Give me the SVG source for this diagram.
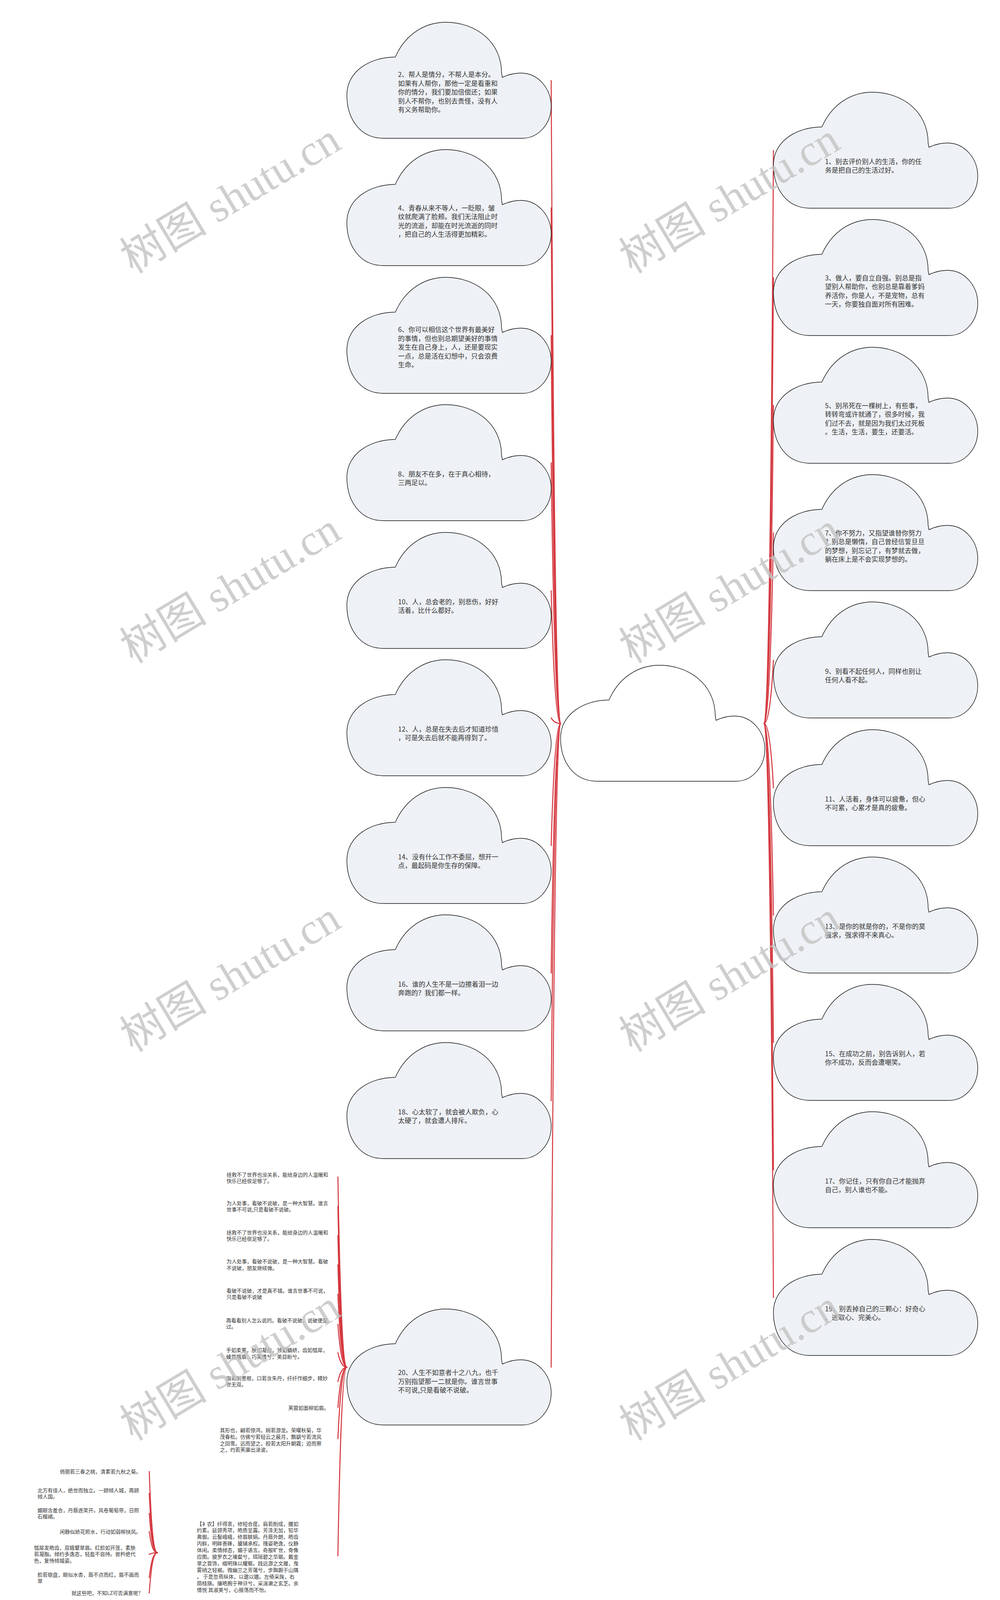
<svg xmlns="http://www.w3.org/2000/svg" xmlns:xlink="http://www.w3.org/1999/xlink" width="2560" height="4271" viewBox="0 0 2560 4271">
<style>
.cloud{fill:#eef1f5;stroke:#111;stroke-width:1.4}
.cloud.center{fill:#ffffff}
.ct{font-family:"Noto Sans CJK SC","Noto Sans",sans-serif;font-size:17px;fill:#333}
.st{font-family:"Noto Sans CJK SC","Noto Sans",sans-serif;font-size:13px;fill:#333}
.link{fill:none;stroke:#d4383f;stroke-width:2.6;stroke-linecap:round}
.wm{font-family:"Liberation Serif","Noto Sans CJK SC",serif;font-size:112px;fill:#c4c4c4;opacity:0.82}
</style>
<defs>
<path id="cloudShape" d="M94 297 C32 297 0 245 0 186 C0 125 60 89 124 89 C150 30 200 0 253 0 C330 0 396 50 396 130 L398 141 C415 133 430 130 445 130 C490 130 523 170 523 215 C523 260 490 297 449 297 Z"/>
</defs>
<rect x="0" y="0" width="2560" height="4271" fill="#ffffff"/>

<g id="connectors">
<path class="link" d="M1411 206 C1414 782 1421 1852 1435 1852"/>
<path class="link" d="M1411 532 C1414 994 1421 1852 1435 1852"/>
<path class="link" d="M1411 859 C1414 1207 1421 1852 1435 1852"/>
<path class="link" d="M1411 1185 C1414 1419 1421 1852 1435 1852"/>
<path class="link" d="M1411 1512 C1414 1631 1421 1852 1435 1852"/>
<path class="link" d="M1411 1838 C1414 1843 1421 1852 1435 1852"/>
<path class="link" d="M1411 2165 C1414 2055 1421 1852 1435 1852"/>
<path class="link" d="M1411 2491 C1414 2267 1421 1852 1435 1852"/>
<path class="link" d="M1411 2818 C1414 2480 1421 1852 1435 1852"/>
<path class="link" d="M1411 3500 C1414 2923 1421 1852 1435 1852"/>
<path class="link" d="M1980 385 C1977 899 1970 1852 1956 1852"/>
<path class="link" d="M1980 711 C1977 1110 1970 1852 1956 1852"/>
<path class="link" d="M1980 1038 C1977 1323 1970 1852 1956 1852"/>
<path class="link" d="M1980 1364 C1977 1535 1970 1852 1956 1852"/>
<path class="link" d="M1980 1690 C1977 1747 1970 1852 1956 1852"/>
<path class="link" d="M1980 2017 C1977 1959 1970 1852 1956 1852"/>
<path class="link" d="M1980 2343 C1977 2171 1970 1852 1956 1852"/>
<path class="link" d="M1980 2669 C1977 2383 1970 1852 1956 1852"/>
<path class="link" d="M1980 2995 C1977 2595 1970 1852 1956 1852"/>
<path class="link" d="M1980 3322 C1977 2808 1970 1852 1956 1852"/>
<path class="link" d="M865 3013 C868 3184 874 3500 888 3500"/>
<path class="link" d="M865 3088 C868 3232 874 3500 888 3500"/>
<path class="link" d="M865 3163 C868 3281 874 3500 888 3500"/>
<path class="link" d="M865 3238 C868 3330 874 3500 888 3500"/>
<path class="link" d="M865 3313 C868 3379 874 3500 888 3500"/>
<path class="link" d="M865 3390 C868 3429 874 3500 888 3500"/>
<path class="link" d="M865 3463 C868 3476 874 3500 888 3500"/>
<path class="link" d="M865 3537 C868 3524 874 3500 888 3500"/>
<path class="link" d="M865 3603 C868 3567 874 3500 888 3500"/>
<path class="link" d="M865 3683 C868 3619 874 3500 888 3500"/>
<path class="link" d="M865 3983 C868 3814 874 3500 888 3500"/>
<path class="link" d="M382 3767 C385 3840 389 3975 403 3975"/>
<path class="link" d="M382 3823 C385 3876 389 3975 403 3975"/>
<path class="link" d="M382 3874 C385 3909 389 3975 403 3975"/>
<path class="link" d="M382 3921 C385 3940 389 3975 403 3975"/>
<path class="link" d="M382 3979 C385 3978 389 3975 403 3975"/>
<path class="link" d="M382 4039 C385 4017 389 3975 403 3975"/>
<path class="link" d="M382 4078 C385 4042 389 3975 403 3975"/>
</g>

<g id="node-center">
<use href="#cloudShape" xlink:href="#cloudShape" class="cloud center" x="1435" y="1703"/>
</g>

<g id="node-2">
<use href="#cloudShape" xlink:href="#cloudShape" class="cloud" x="888" y="57"/>
<text class="ct"><tspan x="1019" y="197">2、帮人是情分，不帮人是本分。</tspan><tspan x="1019" y="219.5">如果有人帮你，那他一定是看重和</tspan><tspan x="1019" y="242">你的情分，我们要加倍偿还；如果</tspan><tspan x="1019" y="264.5">别人不帮你，也别去责怪，没有人</tspan><tspan x="1019" y="287">有义务帮助你。</tspan></text>
</g>
<g id="node-4">
<use href="#cloudShape" xlink:href="#cloudShape" class="cloud" x="888" y="383"/>
<text class="ct"><tspan x="1019" y="538.5">4、青春从来不等人，一眨眼，皱</tspan><tspan x="1019" y="561">纹就爬满了脸颊。我们无法阻止时</tspan><tspan x="1019" y="583.5">光的流逝，却能在时光流逝的同时</tspan><tspan x="1019" y="606">，把自己的人生活得更加精彩。</tspan></text>
</g>
<g id="node-6">
<use href="#cloudShape" xlink:href="#cloudShape" class="cloud" x="888" y="710"/>
<text class="ct"><tspan x="1019" y="850">6、你可以相信这个世界有最美好</tspan><tspan x="1019" y="872.5">的事情，但也别总期望美好的事情</tspan><tspan x="1019" y="895">发生在自己身上，人，还是要现实</tspan><tspan x="1019" y="917.5">一点，总是活在幻想中，只会浪费</tspan><tspan x="1019" y="940">生命。</tspan></text>
</g>
<g id="node-8">
<use href="#cloudShape" xlink:href="#cloudShape" class="cloud" x="888" y="1036"/>
<text class="ct"><tspan x="1019" y="1219.5">8、朋友不在多，在于真心相待，</tspan><tspan x="1019" y="1242">三两足以。</tspan></text>
</g>
<g id="node-10">
<use href="#cloudShape" xlink:href="#cloudShape" class="cloud" x="888" y="1363"/>
<text class="ct"><tspan x="1019" y="1546.5">10、人，总会老的，别悲伤，好好</tspan><tspan x="1019" y="1569">活着，比什么都好。</tspan></text>
</g>
<g id="node-12">
<use href="#cloudShape" xlink:href="#cloudShape" class="cloud" x="888" y="1689"/>
<text class="ct"><tspan x="1019" y="1872.5">12、人，总是在失去后才知道珍惜</tspan><tspan x="1019" y="1895">，可是失去后就不能再得到了。</tspan></text>
</g>
<g id="node-14">
<use href="#cloudShape" xlink:href="#cloudShape" class="cloud" x="888" y="2016"/>
<text class="ct"><tspan x="1019" y="2199.5">14、没有什么工作不委屈，想开一</tspan><tspan x="1019" y="2222">点，最起码是你生存的保障。</tspan></text>
</g>
<g id="node-16">
<use href="#cloudShape" xlink:href="#cloudShape" class="cloud" x="888" y="2342"/>
<text class="ct"><tspan x="1019" y="2525.5">16、谁的人生不是一边擦着泪一边</tspan><tspan x="1019" y="2548">奔跑的？我们都一样。</tspan></text>
</g>
<g id="node-18">
<use href="#cloudShape" xlink:href="#cloudShape" class="cloud" x="888" y="2669"/>
<text class="ct"><tspan x="1019" y="2852.5">18、心太软了，就会被人欺负，心</tspan><tspan x="1019" y="2875">太硬了，就会遭人排斥。</tspan></text>
</g>
<g id="node-20">
<use href="#cloudShape" xlink:href="#cloudShape" class="cloud" x="888" y="3351"/>
<text class="ct"><tspan x="1019" y="3520">20、人生不如意者十之八九，也千</tspan><tspan x="1019" y="3542.5">万别指望那一二就是你。谁言世事</tspan><tspan x="1019" y="3565">不可说,只是看破不说破。</tspan></text>
</g>

<g id="node-1">
<use href="#cloudShape" xlink:href="#cloudShape" class="cloud" x="1980" y="236"/>
<text class="ct"><tspan x="2112" y="419.5">1、别去评价别人的生活，你的任</tspan><tspan x="2112" y="442">务是把自己的生活过好。</tspan></text>
</g>
<g id="node-3">
<use href="#cloudShape" xlink:href="#cloudShape" class="cloud" x="1980" y="562"/>
<text class="ct"><tspan x="2112" y="717.5">3、做人，要自立自强。别总是指</tspan><tspan x="2112" y="740">望别人帮助你，也别总是靠着爹妈</tspan><tspan x="2112" y="762.5">养活你，你是人，不是宠物，总有</tspan><tspan x="2112" y="785">一天，你要独自面对所有困难。</tspan></text>
</g>
<g id="node-5">
<use href="#cloudShape" xlink:href="#cloudShape" class="cloud" x="1980" y="889"/>
<text class="ct"><tspan x="2112" y="1044.5">5、别吊死在一棵树上，有些事，</tspan><tspan x="2112" y="1067">转转弯或许就通了，很多时候，我</tspan><tspan x="2112" y="1089.5">们过不去，就是因为我们太过死板</tspan><tspan x="2112" y="1112">。生活，生活，要生，还要活。</tspan></text>
</g>
<g id="node-7">
<use href="#cloudShape" xlink:href="#cloudShape" class="cloud" x="1980" y="1215"/>
<text class="ct"><tspan x="2112" y="1370.5">7、你不努力，又指望谁替你努力</tspan><tspan x="2112" y="1393">？别总是懒惰，自己曾经信誓旦旦</tspan><tspan x="2112" y="1415.5">的梦想，别忘记了，有梦就去做，</tspan><tspan x="2112" y="1438">躺在床上是不会实现梦想的。</tspan></text>
</g>
<g id="node-9">
<use href="#cloudShape" xlink:href="#cloudShape" class="cloud" x="1980" y="1541"/>
<text class="ct"><tspan x="2112" y="1724.5">9、别看不起任何人，同样也别让</tspan><tspan x="2112" y="1747">任何人看不起。</tspan></text>
</g>
<g id="node-11">
<use href="#cloudShape" xlink:href="#cloudShape" class="cloud" x="1980" y="1868"/>
<text class="ct"><tspan x="2112" y="2051.5">11、人活着，身体可以疲惫，但心</tspan><tspan x="2112" y="2074">不可累，心累才是真的疲惫。</tspan></text>
</g>
<g id="node-13">
<use href="#cloudShape" xlink:href="#cloudShape" class="cloud" x="1980" y="2194"/>
<text class="ct"><tspan x="2112" y="2377.5">13、是你的就是你的，不是你的莫</tspan><tspan x="2112" y="2400">强求，强求得不来真心。</tspan></text>
</g>
<g id="node-15">
<use href="#cloudShape" xlink:href="#cloudShape" class="cloud" x="1980" y="2520"/>
<text class="ct"><tspan x="2112" y="2703.5">15、在成功之前，别告诉别人，若</tspan><tspan x="2112" y="2726">你不成功，反而会遭嘲笑。</tspan></text>
</g>
<g id="node-17">
<use href="#cloudShape" xlink:href="#cloudShape" class="cloud" x="1980" y="2846"/>
<text class="ct"><tspan x="2112" y="3029.5">17、你记住，只有你自己才能抛弃</tspan><tspan x="2112" y="3052">自己，别人谁也不能。</tspan></text>
</g>
<g id="node-19">
<use href="#cloudShape" xlink:href="#cloudShape" class="cloud" x="1980" y="3173"/>
<text class="ct"><tspan x="2112" y="3356.5">19、别丢掉自己的三颗心：好奇心</tspan><tspan x="2112" y="3379">、进取心、完美心。</tspan></text>
</g>

<g id="node-20-1"><text class="st"><tspan x="580" y="3011.5">拯救不了世界也没关系，能给身边的人温暖和</tspan><tspan x="580" y="3028.2">快乐已经很足够了。</tspan></text></g>
<g id="node-20-2"><text class="st"><tspan x="580" y="3084.5">为人处事，看破不说破，是一种大智慧。谁言</tspan><tspan x="580" y="3101.2">世事不可说,只是看破不说破。</tspan></text></g>
<g id="node-20-3"><text class="st"><tspan x="580" y="3159.5">拯救不了世界也没关系，能给身边的人温暖和</tspan><tspan x="580" y="3176.2">快乐已经很足够了。</tspan></text></g>
<g id="node-20-4"><text class="st"><tspan x="580" y="3233.8">为人处事，看破不说破，是一种大智慧。看破</tspan><tspan x="580" y="3250.5">不说破，朋友继续做。</tspan></text></g>
<g id="node-20-5"><text class="st"><tspan x="580" y="3308.5">看破不说破，才是真不错。谁言世事不可说，</tspan><tspan x="580" y="3325.2">只是看破不说破</tspan></text></g>
<g id="node-20-6"><text class="st"><tspan x="579" y="3384.5">再看看别人怎么说的。看破不说破，说破便是</tspan><tspan x="579" y="3401.2">过。</tspan></text></g>
<g id="node-20-7"><text class="st"><tspan x="579" y="3461">手如柔荑，肤如凝脂，领如蝤蛴，齿如瓠犀，</tspan><tspan x="579" y="3477.7">螓首蛾眉，巧笑倩兮，美目盼兮。</tspan></text></g>
<g id="node-20-8"><text class="st"><tspan x="579" y="3532.5">指若削葱根，口若含朱丹，纤纤作细步，精妙</tspan><tspan x="579" y="3549.2">世无双。</tspan></text></g>
<g id="node-20-9"><text class="st" x="842" y="3608.5" text-anchor="end">芙蓉如面柳如眉。</text></g>
<g id="node-20-10"><text class="st"><tspan x="563" y="3666">其形也，翩若惊鸿，婉若游龙。荣曜秋菊，华</tspan><tspan x="563" y="3682.8">茂春松。仿佛兮若轻云之蔽月，飘飖兮若流风</tspan><tspan x="563" y="3699.5">之回雪。远而望之，皎若太阳升朝霞；迫而察</tspan><tspan x="563" y="3716.2">之，灼若芙蕖出渌波。</tspan></text></g>
<g id="node-20-11"><text class="st"><tspan x="504" y="3905.5">【衤农】纤得衷，修短合度。肩若削成，腰如</tspan><tspan x="504" y="3922.4">约素。延颈秀项，皓质呈露。芳泽无加，铅华</tspan><tspan x="504" y="3939.3">弗御。云髻峨峨，修眉联娟。丹唇外朗，皓齿</tspan><tspan x="504" y="3956.2">内鲜，明眸善睐，靥辅承权。瑰姿艳逸，仪静</tspan><tspan x="504" y="3973.1">体闲。柔情绰态，媚于语言。奇服旷世，骨像</tspan><tspan x="504" y="3990">应图。披罗衣之璀粲兮，珥瑶碧之华琚。戴金</tspan><tspan x="504" y="4006.9">翠之首饰，缀明珠以耀躯。践远游之文履，曳</tspan><tspan x="504" y="4023.8">雾绡之轻裾。微幽兰之芳蔼兮，步踟蹰于山隅</tspan><tspan x="504" y="4040.7">。 于是忽焉纵体，以遨以嬉。左倚采旄，右</tspan><tspan x="504" y="4057.6">荫桂旗。攘皓腕于神浒兮，采湍濑之玄芝。余</tspan><tspan x="504" y="4074.5">情悦 其淑美兮，心振荡而不怡。</tspan></text></g>

<g id="node-21-1"><text class="st" x="361" y="3771.5" text-anchor="end">俏丽若三春之桃，清素若九秋之菊。</text></g>
<g id="node-21-2"><text class="st"><tspan x="96" y="3819.5">北方有佳人，绝世而独立。一顾倾人城，再顾</tspan><tspan x="96" y="3836.2">倾人国。</tspan></text></g>
<g id="node-21-3"><text class="st"><tspan x="96" y="3870.5">媚眼含羞合，丹唇逐笑开。风卷葡萄带，日照</tspan><tspan x="96" y="3887.2">石榴裙。</tspan></text></g>
<g id="node-21-4"><text class="st" x="361" y="3925.5" text-anchor="end">闲静似娇花照水，行动如弱柳扶风。</text></g>
<g id="node-21-5"><text class="st"><tspan x="87" y="3966.5">瓠犀发皓齿，双蛾颦翠眉。红脸如开莲，素肤</tspan><tspan x="87" y="3983.2">若凝脂。绰约多逸态，轻盈不自持。尝矜绝代</tspan><tspan x="87" y="3999.9">色，复恃倾城姿。</tspan></text></g>
<g id="node-21-6"><text class="st"><tspan x="96" y="4035.5">脸若银盘，眼似水杏，唇不点而红，眉不画而</tspan><tspan x="96" y="4052.2">翠</tspan></text></g>
<g id="node-21-7"><text class="st" x="360" y="4082.5" text-anchor="end">就这些吧，不知LZ可否满意呢?</text></g>

<g id="watermarks">
<text class="wm" transform="translate(340,702) rotate(-31)">树图 shutu.cn</text>
<text class="wm" transform="translate(340,1700) rotate(-31)">树图 shutu.cn</text>
<text class="wm" transform="translate(340,2695) rotate(-31)">树图 shutu.cn</text>
<text class="wm" transform="translate(340,3690) rotate(-31)">树图 shutu.cn</text>
<text class="wm" transform="translate(1618,702) rotate(-31)">树图 shutu.cn</text>
<text class="wm" transform="translate(1618,1700) rotate(-31)">树图 shutu.cn</text>
<text class="wm" transform="translate(1618,2695) rotate(-31)">树图 shutu.cn</text>
<text class="wm" transform="translate(1618,3690) rotate(-31)">树图 shutu.cn</text>
</g>
</svg>
